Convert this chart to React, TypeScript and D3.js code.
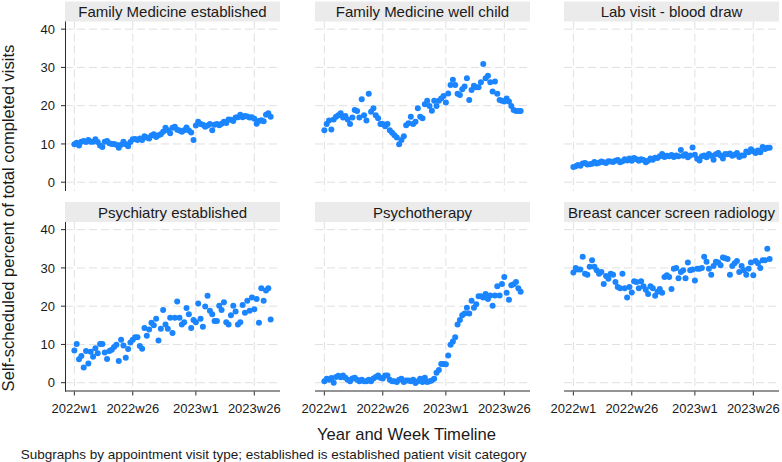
import React from 'react';
import * as d3 from 'd3';

const panelTitles = [
  'Family Medicine established',
  'Family Medicine well child',
  'Lab visit - blood draw',
  'Psychiatry established',
  'Psychotherapy',
  'Breast cancer screen radiology',
];

// weekly values, 2022w1 .. 2023w33
const famMedEst = [9.9,10.3,9.6,10.6,10.8,10.5,11.0,10.6,10.6,11.2,10.5,9.6,9.2,10.6,10.8,10.2,10.0,10.0,9.8,9.0,9.8,10.6,9.9,9.4,10.5,11.2,11.3,11.0,11.4,11.0,12.0,11.7,11.4,12.2,12.5,11.8,12.3,12.5,13.2,14.2,13.6,12.8,14.2,14.5,13.7,13.5,13.2,13.6,14.3,13.5,13.0,11.0,14.8,15.8,15.2,15.0,14.5,14.8,15.2,13.6,15.0,15.2,14.9,15.3,15.8,15.5,16.4,16.3,16.0,16.9,17.0,17.6,17.0,17.3,17.2,16.9,17.0,16.6,15.3,16.0,16.2,15.9,17.6,18.0,17.1];
const famMedWell = [13.6,15.2,16.1,13.8,16.4,17.1,17.5,18.0,16.9,17.3,16.4,15.2,16.9,18.9,18.6,16.9,21.7,17.5,16.1,23.1,18.4,19.3,17.5,16.7,15.2,15.2,14.6,15.2,13.6,12.9,12.3,11.7,9.9,11.0,12.0,14.9,15.4,17.1,15.2,15.8,19.3,17.1,16.7,20.4,21.3,19.9,18.7,21.3,19.9,21.3,21.9,22.5,20.8,23.2,25.4,26.8,25.4,23.1,22.8,24.3,25.0,27.2,21.5,24.1,25.2,24.8,24.8,26.1,30.9,27.2,27.8,26.1,23.7,26.3,23.1,21.5,21.3,21.1,21.9,21.1,19.9,18.9,18.6,18.6,18.6];
const labVisit = [4.0,4.2,4.5,4.3,4.9,5.0,4.6,4.7,4.8,5.3,4.9,5.1,5.4,5.2,5.0,5.5,5.4,5.3,5.6,5.8,5.2,5.5,6.0,5.7,6.2,5.6,6.3,6.0,5.6,6.0,5.8,5.2,5.6,6.2,5.9,6.4,6.3,6.8,7.4,6.6,6.9,6.8,7.1,6.6,7.0,6.8,8.4,6.9,7.3,6.5,7.0,9.1,7.2,6.1,5.7,6.8,7.0,6.5,7.4,6.9,5.9,7.3,7.6,7.0,6.2,7.4,7.3,7.5,6.9,7.2,7.6,6.6,7.0,7.0,8.0,7.8,8.6,8.1,7.6,8.3,7.8,9.2,8.7,9.0,9.0];
const psychEst = [8.4,10.1,6.1,7.0,4.0,8.3,5.0,8.1,6.8,9.0,7.7,10.1,10.1,7.9,6.2,8.3,8.6,9.3,9.9,5.7,11.2,9.7,6.5,8.8,10.5,11.2,11.9,11.9,9.6,8.9,14.3,12.3,13.9,15.7,15.0,16.7,11.0,14.1,19.0,15.2,14.1,17.0,13.0,17.0,21.2,17.0,15.2,15.8,19.5,17.9,14.3,16.4,15.8,20.7,16.7,14.6,19.9,22.7,18.8,17.9,16.1,16.1,20.1,19.0,21.0,15.8,15.2,17.6,20.1,18.6,15.2,15.8,20.3,18.3,21.4,18.8,22.3,19.2,21.9,15.7,24.7,21.4,24.1,24.7,16.5];
const psychotherapy = [0.4,1.0,0.8,1.2,0.0,1.5,1.8,1.4,1.9,1.3,0.8,0.4,1.1,1.3,0.8,0.4,0.8,0.4,0.4,0.8,0.4,1.1,1.5,1.9,1.3,1.1,1.9,1.9,0.8,0.4,0.4,0.2,0.8,1.0,0.2,0.6,0.6,0.4,0.8,-0.1,0.4,1.0,0.2,1.3,0.2,0.4,0.6,1.0,2.6,3.3,4.9,4.9,4.8,7.1,9.9,10.8,11.9,15.2,16.4,17.6,18.1,19.6,18.1,21.4,19.6,20.5,22.6,22.6,22.3,23.2,21.9,22.8,20.1,22.8,25.2,22.8,25.8,27.6,23.5,21.7,25.5,25.7,26.3,24.7,23.8];
const breastScreen = [28.8,30.0,29.6,29.6,32.9,28.5,28.2,30.3,32.0,30.3,29.4,28.5,28.9,25.8,27.9,27.2,28.5,28.2,26.3,25.0,24.7,28.5,24.7,22.3,25.0,23.6,26.5,26.3,24.7,26.5,25.2,24.3,23.2,25.2,24.7,22.7,23.8,24.5,23.5,27.6,28.1,27.6,24.5,29.8,30.0,27.3,28.9,29.4,27.3,31.4,29.4,29.6,26.7,29.8,29.8,30.0,32.9,31.6,29.8,28.2,30.5,31.6,31.4,30.7,32.7,32.5,32.3,28.2,30.5,31.2,31.8,28.9,30.5,29.4,28.2,29.8,31.4,28.1,31.8,31.2,30.0,32.0,32.0,35.0,32.3];

const seriesList = [famMedEst, famMedWell, labVisit, psychEst, psychotherapy, breastScreen];

const xTickWeeks = [0, 25, 52, 77];
const xTickLabels = ['2022w1', '2022w26', '2023w1', '2023w26'];
const yTicks = [0, 10, 20, 30, 40];

const FONT = "'Liberation Sans', Arial, sans-serif";

export default function App() {
  const W = 782, H = 462;
  const colX = [65, 315, 564];
  const rowY = [21.5, 222];
  const pw = 215, ph = 169.5;
  const x = d3.scaleLinear().domain([-4, 88]).range([0, pw]);
  const y = d3.scaleLinear().domain([-2.3, 42]).range([ph, 0]);
  const dot = '#1a85ff';
  const axisColor = '#2b2b2b';
  const gridColor = '#e0e0e0';

  return (
    <svg width={W} height={H} style={{ position: 'absolute', left: 0, top: 0, background: '#fff' }} fontFamily={FONT}>
      <rect x={0} y={0} width={W} height={H} fill="#fff" />
      {seriesList.map((vals, i) => {
        const r = Math.floor(i / 3), c = i % 3;
        const ox = colX[c], oy = rowY[r];
        return (
          <g key={i} transform={`translate(${ox},${oy})`}>
            <rect x={0} y={-20} width={pw} height={20} fill="#ebebeb" />
            <text x={pw / 2} y={-4.3} textAnchor="middle" fontSize={15} fill="#1a1a1a">{panelTitles[i]}</text>
            {yTicks.map(t => (
              <line key={'h' + t} x1={0} x2={pw} y1={y(t)} y2={y(t)} stroke={gridColor} strokeWidth={1} strokeDasharray="8,4" />
            ))}
            {xTickWeeks.map(t => (
              <line key={'v' + t} x1={x(t)} x2={x(t)} y1={0} y2={ph} stroke={gridColor} strokeWidth={1} strokeDasharray="8,4" />
            ))}
            {vals.map((v, k) => (
              <circle key={k} cx={x(k)} cy={y(v)} r={3} fill={dot} />
            ))}
            {c === 0 && (
              <g>
                <line x1={0.5} x2={0.5} y1={0} y2={ph} stroke={axisColor} strokeWidth={1} />
                {yTicks.map(t => (
                  <g key={'yt' + t}>
                    <line x1={0.5} x2={-4} y1={y(t)} y2={y(t)} stroke={axisColor} strokeWidth={1} />
                    <text x={-10} y={y(t) + 4.6} textAnchor="end" fontSize={13} fill="#1a1a1a">{t}</text>
                  </g>
                ))}
              </g>
            )}
            {r === 1 && (
              <g>
                <line x1={0} x2={pw} y1={ph - 0.5} y2={ph - 0.5} stroke={axisColor} strokeWidth={1} />
                {xTickWeeks.map((t, k) => (
                  <g key={'xt' + t}>
                    <line x1={x(t)} x2={x(t)} y1={ph} y2={ph + 4} stroke={axisColor} strokeWidth={1} />
                    <text x={x(t)} y={ph + 21.7} textAnchor="middle" fontSize={13} fill="#1a1a1a">{xTickLabels[k]}</text>
                  </g>
                ))}
              </g>
            )}
          </g>
        );
      })}
      <text transform="translate(13.5,218) rotate(-90)" textAnchor="middle" fontSize={16.6} fill="#1a1a1a">Self-scheduled percent of total completed visits</text>
      <text x={406.5} y={440} textAnchor="middle" fontSize={16.6} fill="#1a1a1a">Year and Week Timeline</text>
      <text x={20.7} y={459} fontSize={13.5} fill="#1a1a1a">Subgraphs by appointment visit type; established is established patient visit category</text>
    </svg>
  );
}
